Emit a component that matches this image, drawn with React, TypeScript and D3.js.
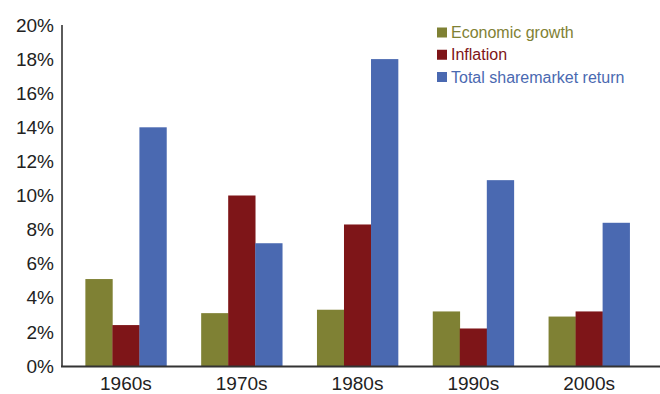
import React from "react";
import * as d3 from "d3";

const decades = ["1960s", "1970s", "1980s", "1990s", "2000s"];
const seriesNames = ["Economic growth", "Inflation", "Total sharemarket return"];
const economicGrowth = [5.1, 3.1, 3.3, 3.2, 2.9];
const inflation = [2.4, 10.0, 8.3, 2.2, 3.2];
const shareReturn = [14.0, 7.2, 18.0, 10.9, 8.4];
const yTicks = [0, 2, 4, 6, 8, 10, 12, 14, 16, 18, 20];
const colors = ["#7f8134", "#7e1518", "#4a69b1"];

const W = 660;
const H = 394;

export default function App() {
  const series = [economicGrowth, inflation, shareReturn];
  const y = d3.scaleLinear().domain([0, 20]).range([366, 25]);
  const x0 = d3
    .scaleBand<string>()
    .domain(decades)
    .range([68, 647])
    .paddingInner(0.3)
    .paddingOuter(0.15);
  const x1 = d3
    .scaleBand<string>()
    .domain(seriesNames)
    .range([0, x0.bandwidth()]);
  const font = "'Liberation Sans', Arial, Helvetica, sans-serif";
  const legendY = d3.scalePoint<string>().domain(seriesNames).range([32.5, 77]);

  return (
    <svg
      width={W}
      height={H}
      style={{ position: "absolute", left: 0, top: 0, background: "#fff" }}
      fontFamily={font}
    >
      {decades.map((d, i) => (
        <g key={d}>
          {series.map((s, j) => (
            <rect
              key={j}
              x={(x0(d) as number) + (x1(seriesNames[j]) as number)}
              y={y(s[i])}
              width={x1.bandwidth() + 0.3}
              height={y(0) - y(s[i])}
              fill={colors[j]}
            />
          ))}
          <text
            x={(x0(d) as number) + x0.bandwidth() / 2}
            y={390}
            textAnchor="middle"
            fontSize={19}
            fill="#222"
          >
            {d}
          </text>
        </g>
      ))}
      {yTicks.map((t) => (
        <text
          key={t}
          x={54}
          y={y(t)}
          dy="0.35em"
          textAnchor="end"
          fontSize={19}
          fill="#222"
        >
          {t}%
        </text>
      ))}
      <line x1={62} x2={62} y1={25} y2={367} stroke="#333" strokeWidth={1.6} />
      <line x1={61} x2={660} y1={366.5} y2={366.5} stroke="#333" strokeWidth={2} />
      {seriesNames.map((n, j) => (
        <g key={n}>
          <rect
            x={437}
            y={(legendY(n) as number) - 5}
            width={10}
            height={10}
            fill={colors[j]}
          />
          <text
            x={451}
            y={legendY(n) as number}
            dy="0.35em"
            fontSize={16}
            fill={colors[j]}
          >
            {n}
          </text>
        </g>
      ))}
    </svg>
  );
}
